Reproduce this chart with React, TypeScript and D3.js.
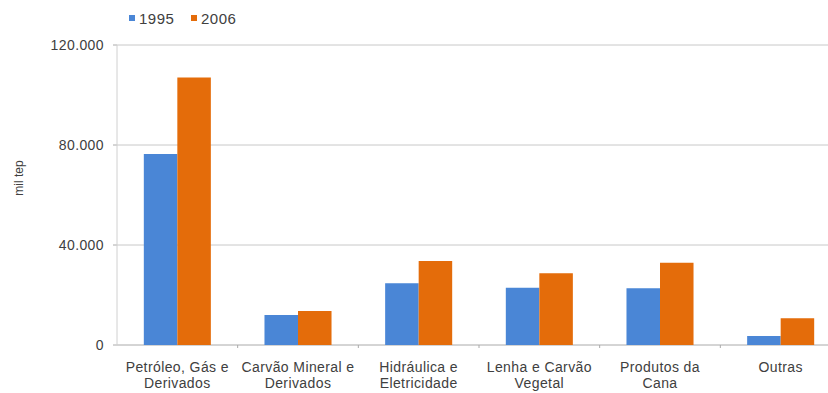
import React from 'react';
import * as d3 from 'd3';

const categories = [
  ['Petróleo, Gás e', 'Derivados'],
  ['Carvão Mineral e', 'Derivados'],
  ['Hidráulica e', 'Eletricidade'],
  ['Lenha e Carvão', 'Vegetal'],
  ['Produtos da', 'Cana'],
  ['Outras'],
];
const series = ['1995', '2006'];
const values1995 = [76400, 12000, 24700, 22900, 22700, 3600];
const values2006 = [107000, 13600, 33600, 28700, 32900, 10700];
const yTicks = [0, 40000, 80000, 120000];
const colors = ['#4A86D6', '#E46C0A'];

const W = 828;
const H = 393;
const margin = { left: 117, top: 45, right: -13, bottom: 48 };

const App = () => {
  const innerW = W - margin.left - margin.right;
  const innerH = H - margin.top - margin.bottom;
  const keys = categories.map((_, i) => String(i));

  const x0 = d3.scaleBand().domain(keys).range([0, innerW]).paddingInner(0).paddingOuter(0);
  const x1 = d3.scaleBand().domain(series).range([0, x0.bandwidth()]).paddingInner(0).paddingOuter(0.8);
  const y = d3.scaleLinear().domain([0, 120000]).range([innerH, 0]);
  const fmt = (v: number) => (v === 0 ? '0' : d3.format(',.3f')(v / 1000).replace(/,/g, ''));
  const data = [values1995, values2006];
  const font = 'Liberation Sans, Arial, sans-serif';

  return (
    <svg width={W} height={H} style={{ position: 'absolute', left: 0, top: 0, background: '#fff' }} fontFamily={font}>
      {/* legend */}
      {series.map((s, i) => (
        <g key={s} transform={`translate(${129 + i * 62},0)`}>
          <rect x={0} y={15} width={6} height={6} fill={colors[i]} />
          <text x={10} y={24} fontSize={15} letterSpacing={0.5} fill="#404040">{s}</text>
        </g>
      ))}
      <text transform={`translate(23,${178}) rotate(-90)`} textAnchor="middle" fontSize={12} fill="#404040">mil tep</text>
      <g transform={`translate(${margin.left},${margin.top})`}>
        {yTicks.map(t => (
          <g key={t}>
            <line x1={0} x2={innerW} y1={y(t)} y2={y(t)} stroke={t === 0 ? '#aaa' : '#c8c8c8'} strokeWidth={1} />
            <line x1={-4} x2={0} y1={y(t)} y2={y(t)} stroke="#aaa" />
            <text x={-13} y={y(t)} dy="0.35em" textAnchor="end" fontSize={14} letterSpacing={0.4} fill="#404040">{fmt(t)}</text>
          </g>
        ))}
        <line x1={0} x2={0} y1={0} y2={innerH} stroke="#d0d0d0" />
        {keys.map((k, i) => (
          <line key={k} x1={x0(k)! + x0.bandwidth()} x2={x0(k)! + x0.bandwidth()} y1={innerH} y2={innerH + 3} stroke="#aaa" />
        ))}
        {keys.map((k, i) => (
          <g key={k} transform={`translate(${x0(k)},0)`}>
            {series.map((s, j) => (
              <rect key={s} x={x1(s)} y={y(data[j][i])} width={x1.bandwidth()} height={innerH - y(data[j][i])} fill={colors[j]} />
            ))}
            {categories[i].map((line, li) => (
              <text key={li} x={x0.bandwidth() / 2} y={innerH + 27 + li * 16} textAnchor="middle" fontSize={14} letterSpacing={0.4} fill="#404040">{line}</text>
            ))}
          </g>
        ))}
      </g>
    </svg>
  );
};

export default App;
